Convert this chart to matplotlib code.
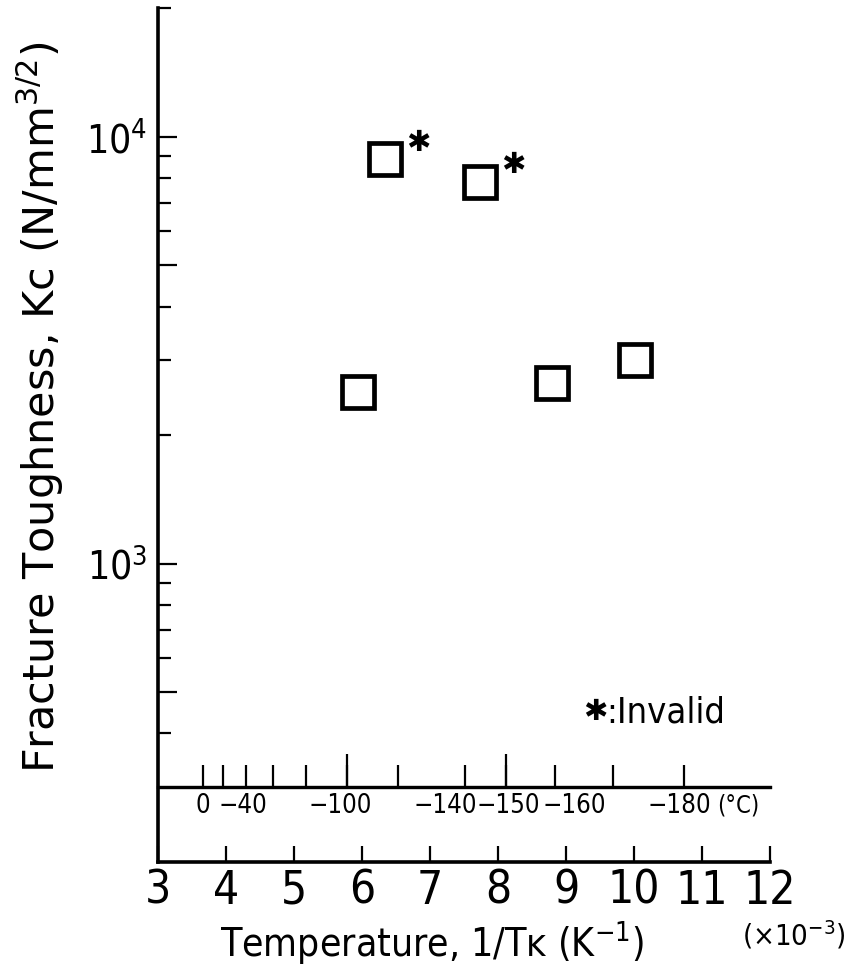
import numpy as np
import matplotlib
matplotlib.use("Agg")
import matplotlib.pyplot as plt
from matplotlib.ticker import FixedLocator, FixedFormatter, NullFormatter

# ---------------- data ----------------
inv_temp = [5.94, 6.34, 7.74, 8.79, 10.01]        # 1/T_K  (x10^-3 K^-1)
kc = [2530, 8850, 7850, 2655, 3000]               # N/mm^3/2
invalid = [False, True, True, False, False]

x_ticks = [3, 4, 5, 6, 7, 8, 9, 10, 11, 12]
x_tick_labels = ["3", "4", "5", "6", "7", "8", "9", "10", "11", "12"]

y_major = [500, 1000, 5000, 10000]
y_major_labels = ["", r"$\mathregular{10^3}$", "", r"$\mathregular{10^4}$"]
y_minor = [400, 600, 700, 800, 900, 2000, 3000, 4000, 6000, 7000, 8000, 9000, 20000]

temp_ticks_c = [0, -20, -40, -60, -80, -100, -120, -140, -150, -160, -170, -180]
temp_long_ticks_c = [-100, -150]
temp_label_values = [0, -40, -100, -140, -150, -160, -180]
temp_label_texts = ["0", "\u221240", "\u2212100", "\u2212140", "\u2212150", "\u2212160", "\u2212180"]

# ---------------- style ----------------
NARROW = ["DejaVu Sans"]
WIDE = ["DejaVu Sans"]
STRETCH = "condensed"
label_nudge_pt = {0: 0, -40: -2, -100: -5, -140: -14, -150: 1.5, -160: 14, -180: -3.5}

fig = plt.figure(figsize=(8.57, 9.73), dpi=100)
ax = fig.add_axes([158 / 857, 111 / 973, 612 / 857, 853.8 / 973])
ax.set_yscale("log")
ax.set_xlim(3, 12)
ax.set_ylim(200, 20000)

for s in ("top", "right"):
    ax.spines[s].set_visible(False)
for s in ("left", "bottom"):
    ax.spines[s].set_linewidth(2.6)

ax.yaxis.set_major_locator(FixedLocator(y_major))
ax.yaxis.set_major_formatter(FixedFormatter(y_major_labels))
ax.yaxis.set_minor_locator(FixedLocator(y_minor))
ax.yaxis.set_minor_formatter(NullFormatter())
ax.tick_params(axis="y", which="major", direction="in", length=14, width=1.6,
               labelsize=28, pad=8)
ax.tick_params(axis="y", which="minor", direction="in", length=9, width=1.6)

ax.set_xticks(x_ticks)
ax.set_xticklabels(x_tick_labels)
ax.tick_params(axis="x", which="major", direction="in", length=11.5, width=1.6,
               labelsize=33, pad=5)
ax.xaxis.set_minor_locator(FixedLocator([]))

for lab in ax.get_xticklabels() + ax.get_yticklabels():
    lab.set_family(NARROW)
    lab.set_stretch(STRETCH)


def to_celsius(x):
    x = np.asarray(x, dtype=float)
    with np.errstate(divide="ignore", invalid="ignore"):
        return 1000.0 / x - 273.15


def to_inv(t):
    t = np.asarray(t, dtype=float)
    with np.errstate(divide="ignore", invalid="ignore"):
        return 1000.0 / (t + 273.15)


sec_loc = 75 / 854
sec = ax.secondary_xaxis(sec_loc, functions=(to_celsius, to_inv))
sec.set_xticks(temp_ticks_c)
sec.tick_params(axis="x", direction="in", length=16, width=1.6, labelbottom=False)
sec.xaxis.set_minor_locator(FixedLocator([]))
sec.spines["bottom"].set_linewidth(2.3)

sec2 = ax.secondary_xaxis(sec_loc, functions=(to_celsius, to_inv))
sec2.set_xticks(temp_long_ticks_c)
sec2.tick_params(axis="x", direction="in", length=24, width=1.6, labelbottom=False)
sec2.xaxis.set_minor_locator(FixedLocator([]))
sec2.spines["bottom"].set_linewidth(2.3)

for tv, tt in zip(temp_label_values, temp_label_texts):
    ax.annotate(tt, xy=(to_inv(tv), 0.0656), xycoords=("data", "axes fraction"),
                xytext=(label_nudge_pt[tv], 0), textcoords="offset points",
                ha="center", va="center", fontsize=18.5, family=NARROW,
                fontstretch=STRETCH)
ax.text(0.914, 0.0656, "(\u00b0C)", transform=ax.transAxes, ha="left", va="center",
        fontsize=17, family=NARROW, fontstretch=STRETCH)

# data markers
ax.plot(inv_temp, kc, ls="none", marker="s", ms=23, mew=3.4, mec="black",
        mfc="white", clip_on=False, zorder=3)
for xi, yi, bad in zip(inv_temp, kc, invalid):
    if bad:
        ax.annotate("\u2731", xy=(xi, yi), xytext=(24, 12), textcoords="offset points",
                    ha="center", va="center", fontsize=21, family=WIDE)

# legend note
ax.text(0.714, 0.1756, "\u2731", transform=ax.transAxes, ha="center", va="center",
        fontsize=21, family=WIDE)
ax.text(0.733, 0.1756, ":Invalid", transform=ax.transAxes, ha="left", va="center",
        fontsize=26, family=NARROW, fontstretch=STRETCH)

# axis titles
fig.text(0.047, 0.581, r"Fracture Toughness, Kc (N/mm$^{\mathregular{3/2}}$)",
         rotation=90, ha="center", va="center", fontsize=31, family=WIDE)
fig.text(0.504, 0.031, "Temperature, 1/T\u1d0b (K$^{\\mathregular{-1}}$)",
         ha="center", va="center", fontsize=28, family=NARROW, fontstretch=STRETCH)
fig.text(0.9265, 0.039, r"($\mathregular{\times}$10$^{\mathregular{-3}}$)",
         ha="center", va="center", fontsize=21, family=NARROW, fontstretch=STRETCH)

fig.savefig("out.png", dpi=100, facecolor="white")
